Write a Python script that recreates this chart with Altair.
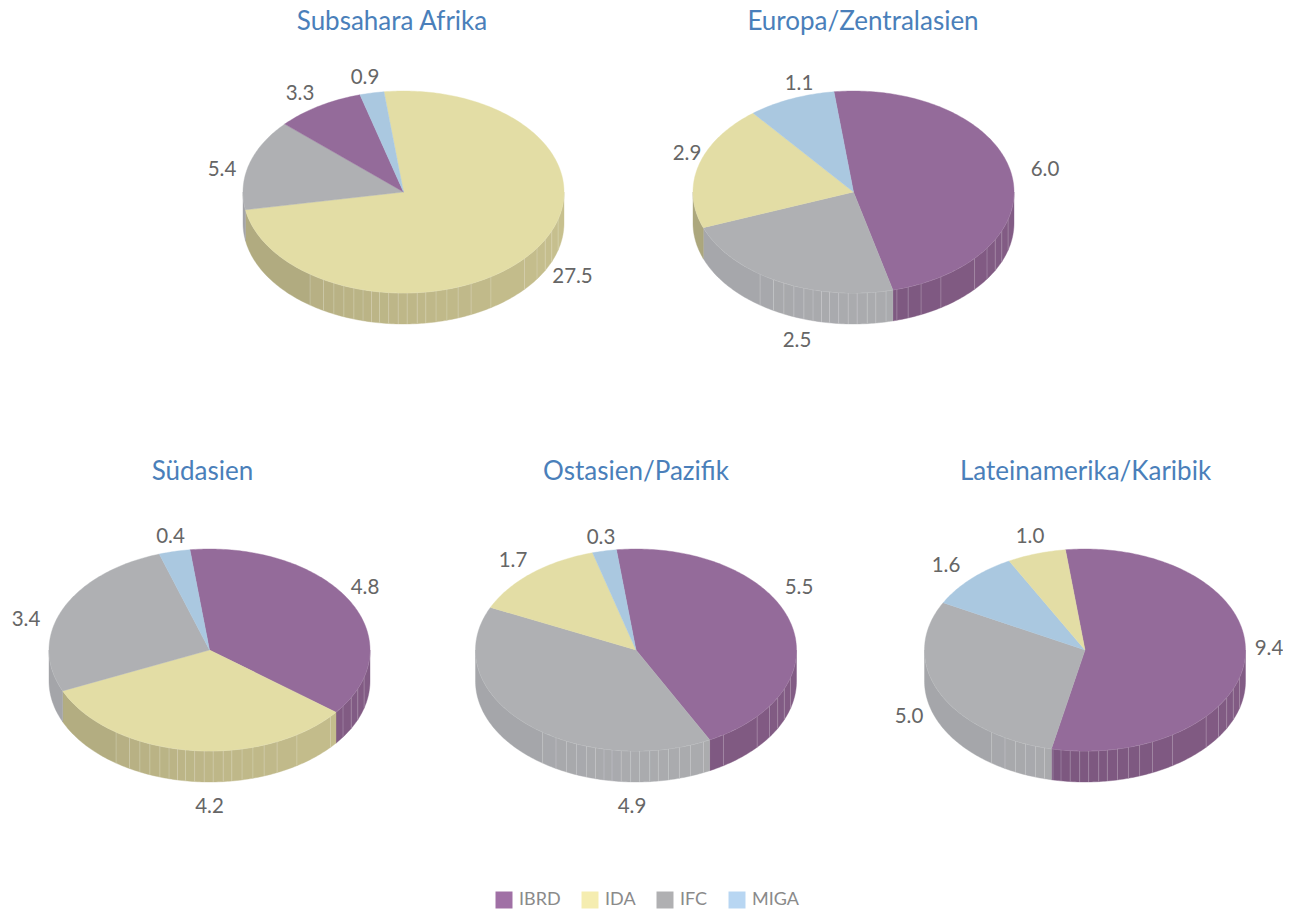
import math
import altair as alt

# ---- data (clockwise order of the slices in each pie)
regions = ["Subsahara Afrika", "Europa/Zentralasien", "Südasien", "Ostasien/Pazifik", "Lateinamerika/Karibik"]
series_names = ["IBRD", "IDA", "IFC", "MIGA"]
slice_series = [
    ["IDA", "IFC", "IBRD", "MIGA"],
    ["IBRD", "IFC", "IDA", "MIGA"],
    ["IBRD", "IDA", "IFC", "MIGA"],
    ["IBRD", "IFC", "IDA", "MIGA"],
    ["IBRD", "IFC", "MIGA", "IDA"],
]
slice_values = [
    [27.5, 5.4, 3.3, 0.9],
    [6.0, 2.9, 2.5, 1.1],
    [4.8, 4.2, 3.4, 0.4],
    [5.5, 4.9, 1.7, 0.3],
    [9.4, 5.0, 1.6, 1.0],
]
label_texts = [
    ["27.5", "5.4", "3.3", "0.9"],
    ["6.0", "2.5", "2.9", "1.1"],
    ["4.8", "4.2", "3.4", "0.4"],
    ["5.5", "4.9", "1.7", "0.3"],
    ["9.4", "5.0", "1.6", "1.0"],
]

# ---- layout and styling, kept apart from the values
centers = [(403.5, 191), (853.5, 191), (209.5, 649), (636, 649), (1085, 649)]
title_pos = [(392, 20.5), (863, 20.5), (202.5, 471), (636, 471), (1085.5, 471)]
label_pos = [
    [(572.5, 276), (222, 169), (300, 93), (365, 77)],
    [(1045, 169), (797, 340), (687, 153), (799, 83)],
    [(365, 587), (209.5, 806), (26, 619), (170.5, 536)],
    [(799, 587), (632, 806), (513, 560), (601, 537)],
    [(1269, 648), (909, 716), (946, 565), (1030, 536)],
]
RX, RY, DEPTH, START = 160.5, 101, 31, -7.0
facet_angles = [105.6, 112.5, 118, 123.7, 131, 147, 155.1, 160.1, 164.3, 168.3, 172, 175.1,
                178.7, 181.9, 185.3, 188.6, 191.5, 194.6, 198, 201.8, 205.7, 209.9, 215.6]
top_colors = ["#946B9A", "#E3DDA5", "#AFB0B3", "#AAC8E0"]
legend_colors = ["#A070A5", "#F5EDB0", "#B0B0B2", "#B8D6F2"]
wall_stops = {  # colour at right edge, front, left edge
    "IBRD": [(131, 92, 133), (125, 88, 128), (120, 84, 124)],
    "IDA": [(200, 193, 143), (190, 183, 136), (170, 165, 124)],
    "IFC": [(172, 173, 175), (170, 171, 174), (163, 164, 168)],
    "MIGA": [(150, 175, 196), (150, 175, 196), (150, 175, 196)],
}


def rim(c, t, drop=0):
    r = math.radians(t)
    return [c[0] + RX * math.sin(r), c[1] - RY * math.cos(r) + drop]


def wall_color(name, t):
    s = wall_stops[name]
    if t <= 180:
        f, a, b = (t - 90) / 90, s[0], s[1]
    else:
        f, a, b = (t - 180) / 90, s[1], s[2]
    f = min(max(f, 0), 1)
    return "#%02x%02x%02x" % tuple(round(a[i] + (b[i] - a[i]) * f) for i in range(3))


def arc(a, b):
    n = max(2, int(abs(b - a)) + 2)
    return [a + (b - a) * i / (n - 1) for i in range(n)]


def feature(kind, coords, **props):
    return {"type": "Feature", "properties": props, "geometry": {"type": kind, "coordinates": coords}}


tops, walls, lines = [], [], []
for c, names, vals in zip(centers, slice_series, slice_values):
    total = sum(vals)
    a = START
    for name, v in zip(names, vals):
        b = a + v / total * 360
        ring = [list(c)] + [rim(c, t) for t in arc(a, b)] + [list(c)]
        tops.append(feature("Polygon", [ring], series=name))
        lo, hi = max(a, 90), min(b, 270)
        if lo < hi:
            cuts = [lo] + [f for f in facet_angles if lo < f < hi] + [hi]
            for p, q in zip(cuts, cuts[1:]):
                ts = arc(p, q)
                ring = [rim(c, t) for t in ts] + [rim(c, t, DEPTH) for t in reversed(ts)]
                ring.append(ring[0])
                walls.append(feature("Polygon", [ring], fill=wall_color(name, (p + q) / 2)))
        a = b
    lines.append(feature("LineString", [rim(c, t) for t in arc(90, 270)], w=0.8))
    for f in facet_angles:
        lines.append(feature("LineString", [rim(c, f), rim(c, f, DEPTH)], w=0.7))

labels = [
    {"lon": p[0], "lat": p[1], "text": t}
    for ps, ts in zip(label_pos, label_texts) for p, t in zip(ps, ts)
]
titles = [{"lon": p[0], "lat": p[1], "text": t} for p, t in zip(title_pos, regions)]

proj = dict(type="identity", scale=1, translate=[-8, -7])


def geo(features):
    return alt.InlineData(values={"type": "FeatureCollection", "features": features},
                          format=alt.DataFormat(property="features", type="json"))


base_w = alt.Chart(geo(walls)).mark_geoshape(strokeWidth=0.4).encode(
    fill=alt.Fill("properties.fill:N", scale=None),
    stroke=alt.Stroke("properties.fill:N", scale=None),
).project(**proj)

top_scale = alt.Scale(domain=series_names, range=top_colors)
base_t = alt.Chart(geo(tops)).mark_geoshape(strokeWidth=0.4).encode(
    fill=alt.Fill("properties.series:N", scale=top_scale, legend=None),
    stroke=alt.Stroke("properties.series:N", scale=top_scale, legend=None),
).project(**proj)

base_l = alt.Chart(geo(lines)).mark_geoshape(filled=False, stroke="#ffffff", strokeOpacity=0.3, strokeWidth=0.7).project(**proj)

legend_layer = alt.Chart(geo(tops)).transform_filter("false").mark_geoshape().encode(
    color=alt.Color(
        "properties.series:N",
        scale=alt.Scale(domain=series_names, range=legend_colors),
        legend=alt.Legend(
            title=None, orient="none", legendX=487, legendY=883, direction="horizontal", columns=4,
            symbolType="square", symbolSize=289, symbolStrokeWidth=0, symbolOpacity=1,
            labelFont="Lato", labelFontSize=18, labelColor="#8a8a8a", labelOffset=6,
            columnPadding=20, padding=0,
        ),
    )
).project(**proj)

label_layer = alt.Chart(alt.InlineData(values=labels)).mark_text(
    font="Lato", fontSize=20.5, color="#666666", align="center", baseline="middle"
).encode(longitude="lon:Q", latitude="lat:Q", text="text:N").project(**proj)

title_layer = alt.Chart(alt.InlineData(values=titles)).mark_text(
    font="Lato", fontSize=26, color="#4A7FBA", align="center", baseline="middle"
).encode(longitude="lon:Q", latitude="lat:Q", text="text:N").project(**proj)

chart = (
    alt.layer(base_w, base_l, base_t, label_layer, title_layer, legend_layer)
    .resolve_scale(color="independent", fill="independent", stroke="independent")
    .properties(width=1275, height=897, padding=0, background="#ffffff")
    .configure_view(stroke=None)
)

chart.save("out.html", embed_options={"renderer": "svg", "actions": False})
